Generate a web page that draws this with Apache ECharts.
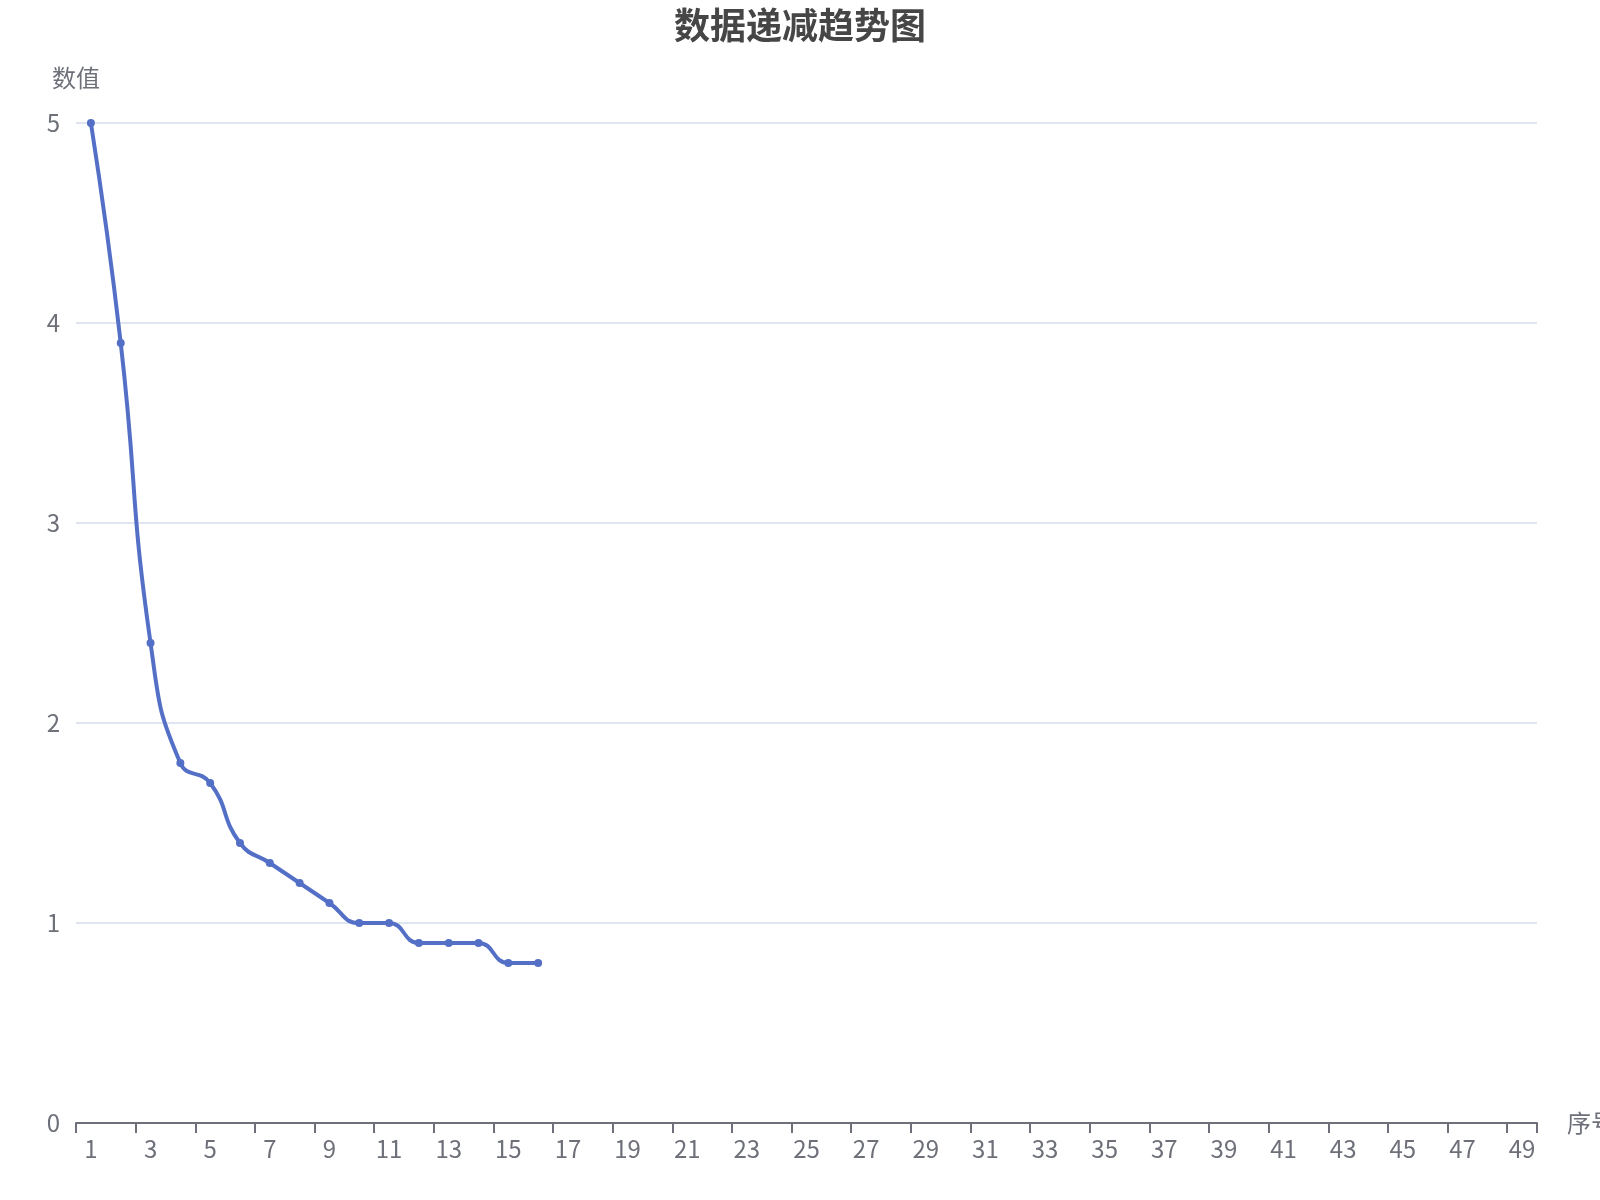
<!DOCTYPE html>
<html lang="zh-CN">
<head>
    <meta charset="UTF-8">
    <title>数据递减趋势图</title>
    <script src="https://cdn.jsdelivr.net/npm/echarts@6/dist/echarts.min.js"></script>
    <style>
        html, body { margin: 0; padding: 0; background: #fff; }
        #main { width: 1600px; height: 1200px; }
    </style>
</head>
<body>
<div id="main"></div>

<script type="text/javascript">
    // 横轴序号
    var xLabels = ['1', '2', '3', '4', '5', '6', '7', '8', '9', '10',
        '11', '12', '13', '14', '15', '16', '17', '18', '19', '20',
        '21', '22', '23', '24', '25', '26', '27', '28', '29', '30',
        '31', '32', '33', '34', '35', '36', '37', '38', '39', '40',
        '41', '42', '43', '44', '45', '46', '47', '48', '49'];

    // 数值
    var values = [5, 3.9, 2.4, 1.8, 1.7, 1.4, 1.3, 1.2, 1.1, 1.0,
        1.0, 0.9, 0.9, 0.9, 0.8, 0.8];

    var chartFont = '"Microsoft YaHei", "Noto Sans CJK SC", sans-serif';
    var axisColor = '#6E7079';

    var myChart = echarts.init(document.getElementById('main'));

    var option = {
        animation: false,
        textStyle: { fontFamily: chartFont },
        title: {
            text: '数据递减趋势图',
            left: 'center',
            top: 2,
            textStyle: {
                fontSize: 36,
                fontWeight: 'bold',
                color: '#464646',
                fontFamily: chartFont
            }
        },
        grid: {
            left: 76,
            right: 63,
            top: 123,
            bottom: 77,
            outerBoundsMode: 'none'
        },
        xAxis: {
            type: 'category',
            name: '序号',
            nameGap: 30,
            nameTextStyle: { fontSize: 24, color: axisColor },
            data: xLabels,
            axisLabel: { fontSize: 24, margin: 14, interval: 1, color: axisColor },
            axisTick: { show: true, interval: 1, length: 10, lineStyle: { width: 2, color: axisColor } },
            axisLine: { show: true, lineStyle: { color: axisColor, width: 2 } }
        },
        yAxis: {
            type: 'value',
            name: '数值',
            nameGap: 33,
            nameTextStyle: { fontSize: 24, color: axisColor },
            min: 0,
            max: 5,
            interval: 1,
            axisLabel: { fontSize: 24, margin: 16, color: axisColor },
            splitLine: { lineStyle: { color: '#E0E6F1', width: 2 } }
        },
        series: [{
            name: '数值',
            type: 'line',
            smooth: true,
            symbol: 'circle',
            symbolSize: 8,
            data: values,
            lineStyle: { width: 4, color: '#5470c6' },
            itemStyle: { color: '#5470c6' }
        }]
    };

    myChart.setOption(option);
</script>
</body>
</html>
